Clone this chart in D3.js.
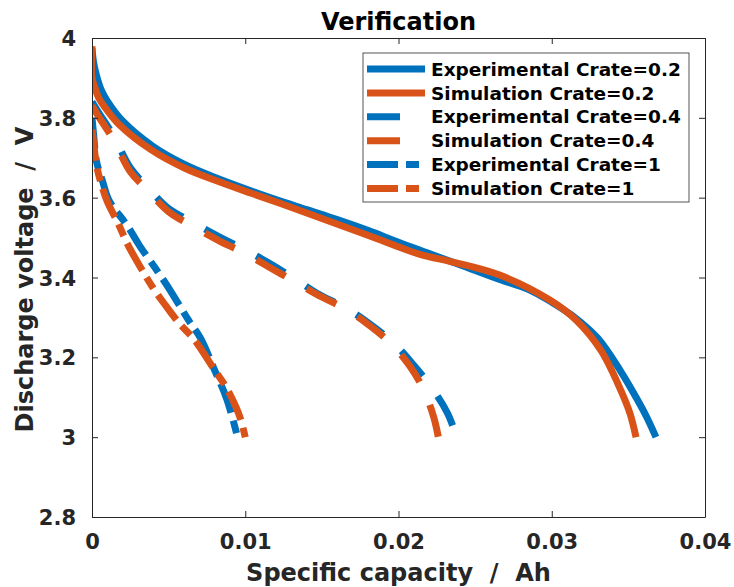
<!DOCTYPE html>
<html>
<head>
<meta charset="utf-8">
<script src="https://cdn.jsdelivr.net/npm/d3@7"></script>
<style>
  body { margin: 0; background: #fff; }
  text { font-family: "DejaVu Sans", sans-serif; font-weight: bold; }
</style>
</head>
<body>
<div id="chart"></div>
<script>
// capacity (Ah), voltage (V)
const exp02 = [[0,3.975],[0.0001,3.94],[0.0003,3.905],[0.0006,3.87],[0.001,3.842],[0.002,3.792],[0.004,3.728],[0.006,3.684],[0.008,3.651],[0.010,3.622],[0.012,3.595],[0.014,3.57],[0.016,3.545],[0.018,3.518],[0.020,3.488],[0.022,3.46],[0.024,3.432],[0.0266,3.395],[0.0285,3.37],[0.030,3.338],[0.0315,3.30],[0.033,3.248],[0.0345,3.165],[0.0355,3.10],[0.0362,3.05],[0.0368,3.0]];
const sim02 = [[0,3.98],[0,3.90],[0.0002,3.875],[0.0004,3.853],[0.00085,3.826],[0.0017,3.786],[0.0039,3.719],[0.0061,3.673],[0.0083,3.64],[0.0104,3.611],[0.0124,3.584],[0.015,3.548],[0.018,3.506],[0.0214,3.458],[0.0234,3.44],[0.0266,3.406],[0.0299,3.343],[0.0316,3.293],[0.0332,3.218],[0.0345,3.118],[0.0351,3.06],[0.0355,3.0]];
const exp04 = [[0,3.84],[0.0004,3.815],[0.0014,3.755],[0.0025,3.675],[0.0036,3.627],[0.005,3.573],[0.0065,3.54],[0.0083,3.502],[0.010,3.469],[0.0116,3.435],[0.0133,3.395],[0.0147,3.36],[0.0166,3.323],[0.018,3.287],[0.0197,3.235],[0.021,3.18],[0.0222,3.122],[0.0232,3.06],[0.0238,3.0]];
const sim04 = [[0,3.83],[0.0004,3.805],[0.0014,3.745],[0.0025,3.665],[0.0036,3.62],[0.005,3.565],[0.0065,3.53],[0.0083,3.492],[0.010,3.46],[0.0116,3.425],[0.0133,3.388],[0.0147,3.357],[0.0166,3.32],[0.018,3.283],[0.0195,3.235],[0.0207,3.18],[0.0216,3.122],[0.0223,3.05],[0.0226,3.0]];
const exp1 = [[0,3.80],[0.0001,3.76],[0.0003,3.69],[0.0007,3.64],[0.0011,3.594],[0.0023,3.53],[0.0031,3.48],[0.0043,3.414],[0.0051,3.368],[0.0063,3.293],[0.0071,3.247],[0.008,3.168],[0.0088,3.095],[0.0095,3.0]];
const sim1 = [[0,3.77],[0.0001,3.74],[0.0003,3.68],[0.0006,3.635],[0.001,3.59],[0.0017,3.536],[0.0023,3.485],[0.0032,3.423],[0.004,3.373],[0.0048,3.33],[0.0057,3.285],[0.0067,3.243],[0.008,3.168],[0.0088,3.122],[0.0094,3.075],[0.0097,3.045],[0.0100,3.0]];

const seriesNames = ["Experimental Crate=0.2", "Simulation Crate=0.2", "Experimental Crate=0.4", "Simulation Crate=0.4", "Experimental Crate=1", "Simulation Crate=1"];
const xTicks = [0, 0.01, 0.02, 0.03, 0.04];
const yTicks = [2.8, 3, 3.2, 3.4, 3.6, 3.8, 4];

const blue = "#0072BD", orange = "#D95319";
const dashStyle = { solid: null, dash: "33,25", dashdot: "31,8,13,8" };
const series = [
    { name: seriesNames[0], data: exp02, color: blue, dash: dashStyle.solid },
    { name: seriesNames[1], data: sim02, color: orange, dash: dashStyle.solid },
    { name: seriesNames[2], data: exp04, color: blue, dash: dashStyle.dash },
    { name: seriesNames[3], data: sim04, color: orange, dash: dashStyle.dash },
    { name: seriesNames[4], data: exp1, color: blue, dash: dashStyle.dashdot },
    { name: seriesNames[5], data: sim1, color: orange, dash: dashStyle.dashdot }
];

const W = 734, H = 587;
const margin = { top: 38, right: 29, bottom: 70, left: 92 };
const width = W - margin.left - margin.right;
const height = H - margin.top - margin.bottom;
const axisColor = "#262626";
const lineW = 7;

const svg = d3.select("#chart").append("svg")
    .attr("width", W)
    .attr("height", H);

const g = svg.append("g")
    .attr("transform", `translate(${margin.left},${margin.top})`);

const x = d3.scaleLinear().domain([0, 0.04]).range([0, width]);
const y = d3.scaleLinear().domain([2.8, 4]).range([height, 0]);

// clip curves to the axes box
svg.append("defs").append("clipPath").attr("id", "clip")
    .append("rect").attr("width", width).attr("height", height);

const line = d3.line()
    .x(d => x(d[0]))
    .y(d => y(d[1]))
    .curve(d3.curveCatmullRom.alpha(0.5));

g.append("g").attr("clip-path", "url(#clip)")
    .selectAll("path")
    .data(series)
    .enter().append("path")
    .attr("d", d => line(d.data))
    .attr("fill", "none")
    .attr("stroke", d => d.color)
    .attr("stroke-width", lineW)
    .attr("stroke-dasharray", d => d.dash)
    .attr("stroke-linejoin", "round");

// axes: ticks point inward, box on all four sides
const tickLen = 6;
const xAxis = d3.axisBottom(x).tickValues(xTicks).tickFormat(d => d3.format("")(+d.toFixed(2))).tickSizeInner(-tickLen).tickSizeOuter(0).tickPadding(17);
const yAxis = d3.axisLeft(y).tickValues(yTicks).tickFormat(d => d3.format("")(+d.toFixed(1))).tickSizeInner(-tickLen).tickSizeOuter(0).tickPadding(16);

const gx = g.append("g").attr("transform", `translate(0,${height})`).call(xAxis);
const gy = g.append("g").call(yAxis);
const gxTop = g.append("g").call(d3.axisTop(x).tickValues(xTicks).tickSizeInner(-tickLen).tickSizeOuter(0).tickFormat(""));
const gyRight = g.append("g").attr("transform", `translate(${width},0)`).call(d3.axisRight(y).tickValues(yTicks).tickSizeInner(-tickLen).tickSizeOuter(0).tickFormat(""));

[gx, gy, gxTop, gyRight].forEach(a => {
    a.select(".domain").attr("stroke", axisColor).attr("stroke-width", 1);
    a.selectAll(".tick line").attr("stroke", axisColor);
    a.selectAll("text").attr("fill", axisColor).style("font-size", "21px").style("font-family", "DejaVu Sans").style("font-weight", "bold");
});
gx.selectAll("text").attr("dy", "0.71em");
gy.selectAll("text").attr("dy", "0.36em");

// titles
svg.append("text")
    .attr("x", margin.left + width / 2)
    .attr("y", 30)
    .attr("text-anchor", "middle")
    .style("font-size", "24px")
    .attr("fill", "#000")
    .text("Verification");

svg.append("text")
    .attr("x", margin.left + width / 2)
    .attr("y", 581)
    .attr("text-anchor", "middle")
    .style("font-size", "24px")
    .style("white-space", "pre")
    .attr("fill", axisColor)
    .text("Specific capacity  /  Ah");

svg.append("text")
    .attr("transform", `translate(33,${margin.top + height / 2 + 2}) rotate(-90)`)
    .attr("text-anchor", "middle")
    .style("font-size", "24px")
    .style("white-space", "pre")
    .attr("fill", axisColor)
    .text("Discharge voltage  /  V");

// legend
const legend = svg.append("g").attr("transform", "translate(363,53)");
legend.append("rect")
    .attr("width", 326)
    .attr("height", 149)
    .attr("fill", "#fff")
    .attr("stroke", "#555")
    .attr("stroke-width", 1);

const rowH = 23.9;
const items = legend.selectAll(".item")
    .data(series)
    .enter().append("g")
    .attr("class", "item")
    .attr("transform", (d, i) => `translate(0,${16 + i * rowH})`);

items.append("line")
    .attr("x1", 4).attr("x2", 62)
    .attr("stroke", d => d.color)
    .attr("stroke-width", lineW)
    .attr("stroke-dasharray", d => d.dash);

items.append("text")
    .attr("x", 68)
    .attr("dy", "0.36em")
    .style("font-size", "18.5px")
    .attr("fill", "#000")
    .text(d => d.name);
</script>
</body>
</html>
